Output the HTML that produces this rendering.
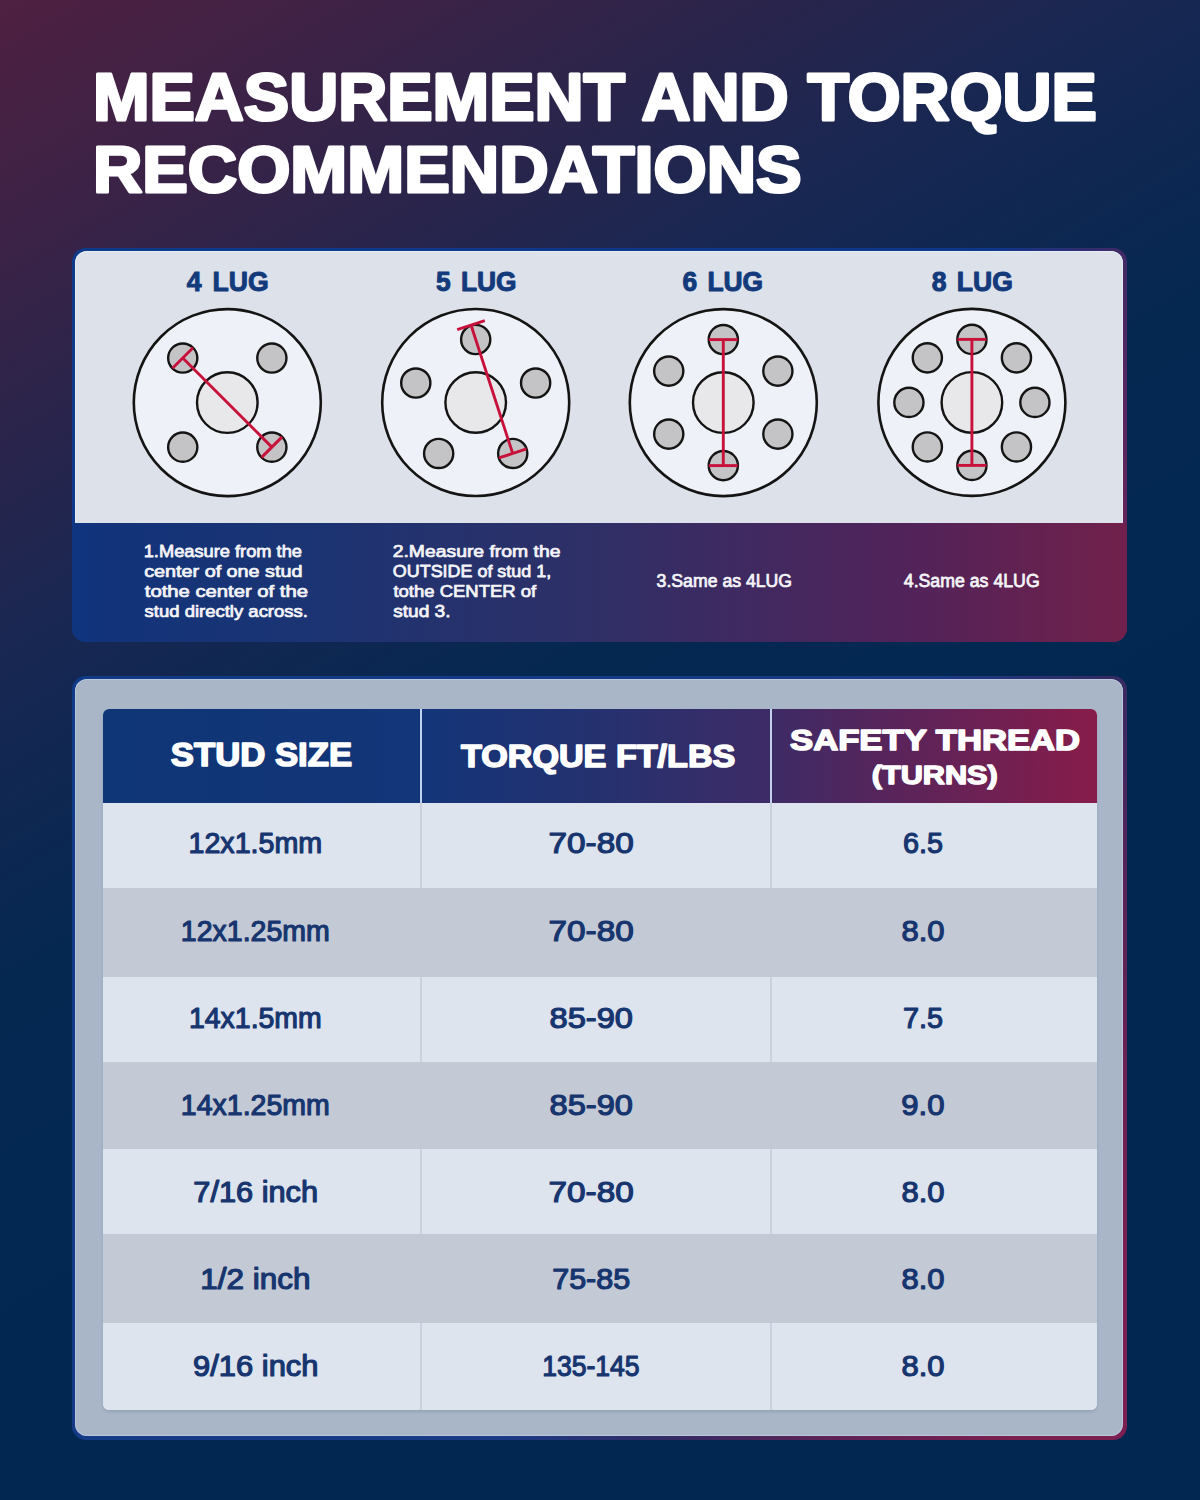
<!DOCTYPE html>
<html lang="en"><head><meta charset="utf-8"><title>Measurement and Torque Recommendations</title>
<style>
html,body{margin:0;padding:0}
body{width:1200px;height:1500px;position:relative;overflow:hidden;
 background:linear-gradient(150deg,#4f2041 0%,#342348 15%,#182752 30%,#052851 45%,#022851 60%,#022851 100%);
 font-family:"Liberation Sans",Arial,sans-serif}
.panel{position:absolute;left:72px;top:248px;width:1055px;height:394px;border-radius:14px;
 background:linear-gradient(120deg,#0e3a88 0%,#10368a 72%,#3f2a66 82%,#5a2560 90%,#6e214c 100%)}
.panel .light{position:absolute;left:3px;top:3px;width:1048px;height:272px;background:#dce1ea;border-radius:12px 12px 0 0;box-shadow:inset 0 1px 0 rgba(240,246,255,0.6),inset 1px 0 0 rgba(240,246,255,0.45),inset -1px 0 0 rgba(240,246,255,0.45)}
.panel .band{position:absolute;left:0;top:275px;width:1055px;height:119px;border-radius:0 0 14px 14px;
 background:linear-gradient(90deg,#0f3580 0%,#12337a 3%,#1b3473 22%,#2f2f66 50%,#51235a 79%,#6e214c 98%,#70204c 100%)}
.tbox{position:absolute;left:72px;top:675.5px;width:1055px;height:764px;border-radius:14px;
 background:linear-gradient(120deg,#0e3a88 0%,#1a3a85 58%,#352a62 70%,#5e2256 80%,#7a1f4f 92%,#7a1f4f 100%)}
.tbox .gray{position:absolute;left:3px;top:3.5px;width:1048px;height:757px;background:#a9b6c8;border-radius:12px;box-shadow:inset 0 0 0 1px rgba(200,212,236,0.55)}
.tbl{position:absolute;left:103px;top:709px;width:994px;height:701px;border-radius:6px;overflow:hidden;background:#dde4ee;box-shadow:0 2px 3px rgba(40,60,95,0.16)}
.hdr{position:absolute;left:0;top:0;width:994px;height:94px;
 background:linear-gradient(90deg,#0f3676 0%,#133579 32%,#25316f 50%,#3d2b66 67%,#5a245a 80%,#871c4a 100%)}
.rl,.rd{position:absolute;left:0;width:994px}
.rl{background:#dde4ee}
.rd{background:#c4cad5}
.vh{position:absolute;top:0;height:94px;width:2px;background:#c3d2ec}
.vb{position:absolute;width:2px;background:#cad1dc}
svg.ov{position:absolute;left:0;top:0}
</style></head><body>
<div class="panel"><div class="light"></div><div class="band"></div></div>
<div class="tbox"><div class="gray"></div></div>
<div class="tbl">
<div class="hdr"></div>
<div class="rl" style="top:94px;height:85px"></div>
<div class="rd" style="top:179px;height:89px"></div>
<div class="rl" style="top:268px;height:85px"></div>
<div class="rd" style="top:353px;height:87px"></div>
<div class="rl" style="top:440px;height:85px"></div>
<div class="rd" style="top:525px;height:89px"></div>
<div class="rl" style="top:614px;height:87px"></div>
<div class="vh" style="left:317px"></div>
<div class="vh" style="left:667px"></div>
<div class="vb" style="left:317px;top:94px;height:85px"></div>
<div class="vb" style="left:667px;top:94px;height:85px"></div>
<div class="vb" style="left:317px;top:268px;height:85px"></div>
<div class="vb" style="left:667px;top:268px;height:85px"></div>
<div class="vb" style="left:317px;top:440px;height:85px"></div>
<div class="vb" style="left:667px;top:440px;height:85px"></div>
<div class="vb" style="left:317px;top:614px;height:87px"></div>
<div class="vb" style="left:667px;top:614px;height:87px"></div>
</div>
<svg class="ov" width="1200" height="1500" viewBox="0 0 1200 1500" font-family="'Liberation Sans', Arial, sans-serif">
<text transform="translate(92.91 120.10) scale(1.0320 1)" font-size="65.84" font-weight="bold" fill="#fff" stroke="#fff" stroke-width="3.00" stroke-linejoin="round">MEASUREMENT AND TORQUE</text>
<text transform="translate(92.89 191.80) scale(1.0616 1)" font-size="64.39" font-weight="bold" fill="#fff" stroke="#fff" stroke-width="3.00" stroke-linejoin="round">RECOMMENDATIONS</text>
<text transform="translate(0 291.30) scale(0.9889 1)" font-size="26.89" font-weight="bold" fill="#133a7b" stroke="#133a7b" stroke-width="1.00" stroke-linejoin="round"><tspan x="188.95">4 </tspan><tspan x="214.84">LUG</tspan></text>
<text transform="translate(0 291.30) scale(0.9804 1)" font-size="26.89" font-weight="bold" fill="#133a7b" stroke="#133a7b" stroke-width="1.00" stroke-linejoin="round"><tspan x="444.81">5 </tspan><tspan x="470.22">LUG</tspan></text>
<text transform="translate(0 291.30) scale(0.9814 1)" font-size="26.89" font-weight="bold" fill="#133a7b" stroke="#133a7b" stroke-width="1.00" stroke-linejoin="round"><tspan x="695.36">6 </tspan><tspan x="720.89">LUG</tspan></text>
<text transform="translate(0 291.30) scale(0.9880 1)" font-size="26.89" font-weight="bold" fill="#133a7b" stroke="#133a7b" stroke-width="1.00" stroke-linejoin="round"><tspan x="943.10">8 </tspan><tspan x="968.37">LUG</tspan></text>
<circle cx="227.3" cy="402.6" r="93.5" fill="#eef1f8" stroke="#141414" stroke-width="2.6"/>
<circle cx="227.3" cy="402.6" r="30.3" fill="#e8e7e9" stroke="#141414" stroke-width="2.4"/>
<circle cx="182.75" cy="358.05" r="14.6" fill="#c4c4c6" stroke="#141414" stroke-width="2.4"/>
<circle cx="271.85" cy="358.05" r="14.6" fill="#c4c4c6" stroke="#141414" stroke-width="2.4"/>
<circle cx="271.85" cy="447.15" r="14.6" fill="#c4c4c6" stroke="#141414" stroke-width="2.4"/>
<circle cx="182.75" cy="447.15" r="14.6" fill="#c4c4c6" stroke="#141414" stroke-width="2.4"/>
<line x1="182.75" y1="358.05" x2="271.85" y2="447.15" stroke="#c8113a" stroke-width="2.9"/><line x1="193.01" y1="347.80" x2="172.50" y2="368.31" stroke="#c8113a" stroke-width="2.9"/><line x1="282.10" y1="436.89" x2="261.59" y2="457.40" stroke="#c8113a" stroke-width="2.9"/>
<circle cx="475.7" cy="402.5" r="93.5" fill="#eef1f8" stroke="#141414" stroke-width="2.6"/>
<circle cx="475.7" cy="402.5" r="30.3" fill="#e8e7e9" stroke="#141414" stroke-width="2.4"/>
<circle cx="475.70" cy="339.50" r="14.6" fill="#c4c4c6" stroke="#141414" stroke-width="2.4"/>
<circle cx="535.62" cy="383.03" r="14.6" fill="#c4c4c6" stroke="#141414" stroke-width="2.4"/>
<circle cx="512.73" cy="453.47" r="14.6" fill="#c4c4c6" stroke="#141414" stroke-width="2.4"/>
<circle cx="438.67" cy="453.47" r="14.6" fill="#c4c4c6" stroke="#141414" stroke-width="2.4"/>
<circle cx="415.78" cy="383.03" r="14.6" fill="#c4c4c6" stroke="#141414" stroke-width="2.4"/>
<line x1="471.00" y1="325.04" x2="512.73" y2="453.47" stroke="#c8113a" stroke-width="2.9"/><line x1="484.79" y1="320.56" x2="457.21" y2="329.52" stroke="#c8113a" stroke-width="2.9"/><line x1="526.52" y1="448.99" x2="498.94" y2="457.95" stroke="#c8113a" stroke-width="2.9"/>
<circle cx="723.3" cy="402.6" r="93.5" fill="#eef1f8" stroke="#141414" stroke-width="2.6"/>
<circle cx="723.3" cy="402.6" r="30.3" fill="#e8e7e9" stroke="#141414" stroke-width="2.4"/>
<circle cx="723.30" cy="339.60" r="14.6" fill="#c4c4c6" stroke="#141414" stroke-width="2.4"/>
<circle cx="777.86" cy="371.10" r="14.6" fill="#c4c4c6" stroke="#141414" stroke-width="2.4"/>
<circle cx="777.86" cy="434.10" r="14.6" fill="#c4c4c6" stroke="#141414" stroke-width="2.4"/>
<circle cx="723.30" cy="465.60" r="14.6" fill="#c4c4c6" stroke="#141414" stroke-width="2.4"/>
<circle cx="668.74" cy="434.10" r="14.6" fill="#c4c4c6" stroke="#141414" stroke-width="2.4"/>
<circle cx="668.74" cy="371.10" r="14.6" fill="#c4c4c6" stroke="#141414" stroke-width="2.4"/>
<line x1="723.30" y1="339.60" x2="723.30" y2="465.60" stroke="#c8113a" stroke-width="2.9"/><line x1="737.80" y1="339.60" x2="708.80" y2="339.60" stroke="#c8113a" stroke-width="2.9"/><line x1="737.80" y1="465.60" x2="708.80" y2="465.60" stroke="#c8113a" stroke-width="2.9"/>
<circle cx="971.9" cy="402.4" r="93.5" fill="#eef1f8" stroke="#141414" stroke-width="2.6"/>
<circle cx="971.9" cy="402.4" r="30.3" fill="#e8e7e9" stroke="#141414" stroke-width="2.4"/>
<circle cx="971.90" cy="339.40" r="14.6" fill="#c4c4c6" stroke="#141414" stroke-width="2.4"/>
<circle cx="1016.45" cy="357.85" r="14.6" fill="#c4c4c6" stroke="#141414" stroke-width="2.4"/>
<circle cx="1034.90" cy="402.40" r="14.6" fill="#c4c4c6" stroke="#141414" stroke-width="2.4"/>
<circle cx="1016.45" cy="446.95" r="14.6" fill="#c4c4c6" stroke="#141414" stroke-width="2.4"/>
<circle cx="971.90" cy="465.40" r="14.6" fill="#c4c4c6" stroke="#141414" stroke-width="2.4"/>
<circle cx="927.35" cy="446.95" r="14.6" fill="#c4c4c6" stroke="#141414" stroke-width="2.4"/>
<circle cx="908.90" cy="402.40" r="14.6" fill="#c4c4c6" stroke="#141414" stroke-width="2.4"/>
<circle cx="927.35" cy="357.85" r="14.6" fill="#c4c4c6" stroke="#141414" stroke-width="2.4"/>
<line x1="971.90" y1="339.40" x2="971.90" y2="465.40" stroke="#c8113a" stroke-width="2.9"/><line x1="986.40" y1="339.40" x2="957.40" y2="339.40" stroke="#c8113a" stroke-width="2.9"/><line x1="986.40" y1="465.40" x2="957.40" y2="465.40" stroke="#c8113a" stroke-width="2.9"/>
<text transform="translate(143.70 556.62) scale(1.0883 1)" font-size="16.79" font-weight="normal" fill="#f4f4f8" stroke="#f4f4f8" stroke-width="0.75" stroke-linejoin="round">1.Measure from the</text>
<text transform="translate(144.23 576.83) scale(1.1781 1)" font-size="16.79" font-weight="normal" fill="#f4f4f8" stroke="#f4f4f8" stroke-width="0.75" stroke-linejoin="round">center of one stud</text>
<text transform="translate(144.77 597.02) scale(1.2062 1)" font-size="16.79" font-weight="normal" fill="#f4f4f8" stroke="#f4f4f8" stroke-width="0.75" stroke-linejoin="round">tothe center of the</text>
<text transform="translate(144.57 617.23) scale(1.1015 1)" font-size="16.79" font-weight="normal" fill="#f4f4f8" stroke="#f4f4f8" stroke-width="0.75" stroke-linejoin="round">stud directly across.</text>
<text transform="translate(392.71 556.62) scale(1.1525 1)" font-size="16.79" font-weight="normal" fill="#f4f4f8" stroke="#f4f4f8" stroke-width="0.75" stroke-linejoin="round">2.Measure from the</text>
<text transform="translate(392.82 576.83) scale(1.0678 1)" font-size="16.79" font-weight="normal" fill="#f4f4f8" stroke="#f4f4f8" stroke-width="0.75" stroke-linejoin="round">OUTSIDE of stud 1,</text>
<text transform="translate(393.40 597.02) scale(1.1017 1)" font-size="16.79" font-weight="normal" fill="#f4f4f8" stroke="#f4f4f8" stroke-width="0.75" stroke-linejoin="round">tothe CENTER of</text>
<text transform="translate(393.15 617.23) scale(1.1387 1)" font-size="16.79" font-weight="normal" fill="#f4f4f8" stroke="#f4f4f8" stroke-width="0.75" stroke-linejoin="round">stud 3.</text>
<text transform="translate(656.61 586.92) scale(1.0097 1)" font-size="17.51" font-weight="normal" fill="#f4f4f8" stroke="#f4f4f8" stroke-width="0.75" stroke-linejoin="round">3.Same as 4LUG</text>
<text transform="translate(903.78 586.92) scale(1.0122 1)" font-size="17.51" font-weight="normal" fill="#f4f4f8" stroke="#f4f4f8" stroke-width="0.75" stroke-linejoin="round">4.Same as 4LUG</text>
<text transform="translate(170.76 766.10) scale(1.0623 1)" font-size="32.70" font-weight="bold" fill="#fff" stroke="#fff" stroke-width="1.60" stroke-linejoin="round">STUD SIZE</text>
<text transform="translate(460.96 766.70) scale(1.0612 1)" font-size="32.19" font-weight="bold" fill="#fff" stroke="#fff" stroke-width="1.60" stroke-linejoin="round">TORQUE FT/LBS</text>
<text transform="translate(790.06 749.60) scale(1.1414 1)" font-size="30.38" font-weight="bold" fill="#fff" stroke="#fff" stroke-width="1.60" stroke-linejoin="round">SAFETY THREAD</text>
<text transform="translate(871.67 784.00) scale(1.1799 1)" font-size="26.02" font-weight="bold" fill="#fff" stroke="#fff" stroke-width="1.40" stroke-linejoin="round">(TURNS)</text>
<text transform="translate(188.45 853.40) scale(0.9862 1)" font-size="29.07" font-weight="normal" fill="#17356f" stroke="#17356f" stroke-width="1.20" stroke-linejoin="round">12x1.5mm</text>
<text transform="translate(548.55 853.40) scale(1.1460 1)" font-size="29.07" font-weight="normal" fill="#17356f" stroke="#17356f" stroke-width="1.20" stroke-linejoin="round">70-80</text>
<text transform="translate(902.96 853.40) scale(0.9897 1)" font-size="29.07" font-weight="normal" fill="#17356f" stroke="#17356f" stroke-width="1.20" stroke-linejoin="round">6.5</text>
<text transform="translate(180.86 940.57) scale(0.9809 1)" font-size="29.07" font-weight="normal" fill="#17356f" stroke="#17356f" stroke-width="1.20" stroke-linejoin="round">12x1.25mm</text>
<text transform="translate(548.55 940.57) scale(1.1460 1)" font-size="29.07" font-weight="normal" fill="#17356f" stroke="#17356f" stroke-width="1.20" stroke-linejoin="round">70-80</text>
<text transform="translate(901.48 940.57) scale(1.0661 1)" font-size="29.07" font-weight="normal" fill="#17356f" stroke="#17356f" stroke-width="1.20" stroke-linejoin="round">8.0</text>
<text transform="translate(188.97 1027.74) scale(0.9786 1)" font-size="29.07" font-weight="normal" fill="#17356f" stroke="#17356f" stroke-width="1.20" stroke-linejoin="round">14x1.5mm</text>
<text transform="translate(549.61 1027.74) scale(1.1219 1)" font-size="29.07" font-weight="normal" fill="#17356f" stroke="#17356f" stroke-width="1.20" stroke-linejoin="round">85-90</text>
<text transform="translate(902.89 1027.74) scale(0.9916 1)" font-size="29.07" font-weight="normal" fill="#17356f" stroke="#17356f" stroke-width="1.20" stroke-linejoin="round">7.5</text>
<text transform="translate(180.86 1114.91) scale(0.9809 1)" font-size="29.07" font-weight="normal" fill="#17356f" stroke="#17356f" stroke-width="1.20" stroke-linejoin="round">14x1.25mm</text>
<text transform="translate(549.61 1114.91) scale(1.1219 1)" font-size="29.07" font-weight="normal" fill="#17356f" stroke="#17356f" stroke-width="1.20" stroke-linejoin="round">85-90</text>
<text transform="translate(901.32 1114.91) scale(1.0702 1)" font-size="29.07" font-weight="normal" fill="#17356f" stroke="#17356f" stroke-width="1.20" stroke-linejoin="round">9.0</text>
<text transform="translate(193.34 1202.08) scale(1.0573 1)" font-size="29.07" font-weight="normal" fill="#17356f" stroke="#17356f" stroke-width="1.20" stroke-linejoin="round">7/16 inch</text>
<text transform="translate(548.55 1202.08) scale(1.1460 1)" font-size="29.07" font-weight="normal" fill="#17356f" stroke="#17356f" stroke-width="1.20" stroke-linejoin="round">70-80</text>
<text transform="translate(901.48 1202.08) scale(1.0661 1)" font-size="29.07" font-weight="normal" fill="#17356f" stroke="#17356f" stroke-width="1.20" stroke-linejoin="round">8.0</text>
<text transform="translate(200.24 1289.25) scale(1.0824 1)" font-size="29.07" font-weight="normal" fill="#17356f" stroke="#17356f" stroke-width="1.20" stroke-linejoin="round">1/2 inch</text>
<text transform="translate(552.15 1289.25) scale(1.0508 1)" font-size="29.07" font-weight="normal" fill="#17356f" stroke="#17356f" stroke-width="1.20" stroke-linejoin="round">75-85</text>
<text transform="translate(901.48 1289.25) scale(1.0661 1)" font-size="29.07" font-weight="normal" fill="#17356f" stroke="#17356f" stroke-width="1.20" stroke-linejoin="round">8.0</text>
<text transform="translate(193.03 1376.42) scale(1.0638 1)" font-size="29.07" font-weight="normal" fill="#17356f" stroke="#17356f" stroke-width="1.20" stroke-linejoin="round">9/16 inch</text>
<text transform="translate(542.21 1376.42) scale(0.9135 1)" font-size="29.07" font-weight="normal" fill="#17356f" stroke="#17356f" stroke-width="1.20" stroke-linejoin="round">135-145</text>
<text transform="translate(901.48 1376.42) scale(1.0661 1)" font-size="29.07" font-weight="normal" fill="#17356f" stroke="#17356f" stroke-width="1.20" stroke-linejoin="round">8.0</text>
</svg>
</body></html>
